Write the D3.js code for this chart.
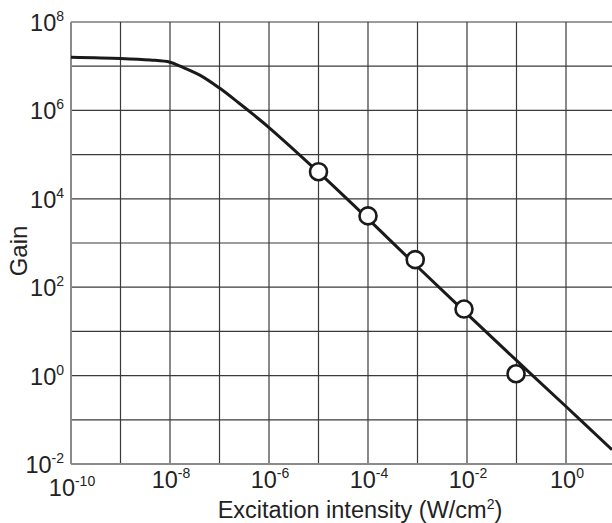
<!DOCTYPE html>
<html>
<head>
<meta charset="utf-8">
<script src="https://cdn.jsdelivr.net/npm/d3@7"></script>
<style>
  html, body { margin: 0; padding: 0; background: #fff; }
  svg { display: block; font-family: "Liberation Sans", Arial, sans-serif; }
</style>
</head>
<body>
<svg id="chart" width="612" height="523"></svg>
<script>
// Gain response curve, sampled along the drawn line
const curveIntensity = [1e-10, 1e-9, 4e-9, 1e-8, 1.6e-8, 4e-8, 1e-7, 2.5e-7, 5e-7, 1e-6, 1e-5, 1e-4, 1e-3, 1e-2, 1e-1, 1, 8.5];
const curveGain      = [1.6e7, 1.5e7, 1.38e7, 1.23e7, 1.0e7, 6.3e6, 3.2e6, 1.45e6, 7.8e5, 4.1e5, 4.0e4, 3.5e3, 2.9e2, 25, 2.2, 0.2, 0.021];

// Measured points
const pointIntensity = [1e-5, 1e-4, 9e-4, 8.7e-3, 0.098];
const pointGain      = [4.1e4, 4.1e3, 4.2e2, 32, 1.1];

// Decade ticks
const xTickExp = [-10, -8, -6, -4, -2, 0];
const yTickExp = [-2, 0, 2, 4, 6, 8];
const xGridExp = [-10, -9, -8, -7, -6, -5, -4, -3, -2, -1, 0];
const yGridExp = [-2, -1, 0, 1, 2, 3, 4, 5, 6, 7, 8];

const svg = d3.select("#chart");
const plotLeft = 71, plotTop = 22, plotBottom = 464;

const x = d3.scaleLog().domain([1e-10, 1e1]).range([plotLeft, plotLeft + 11 * 49.5]);
const y = d3.scaleLog().domain([1e-2, 1e8]).range([plotBottom, plotTop]);

const plot = svg.append("g");

// grid
plot.selectAll("line.vgrid").data(xGridExp.slice(1)).join("line")
  .attr("x1", d => x(Math.pow(10, d))).attr("x2", d => x(Math.pow(10, d)))
  .attr("y1", plotTop).attr("y2", plotBottom)
  .attr("stroke", "#3a3a3a").attr("stroke-width", 1.2);
plot.selectAll("line.hgrid").data(yGridExp.slice(1)).join("line")
  .attr("x1", plotLeft).attr("x2", 612)
  .attr("y1", d => y(Math.pow(10, d))).attr("y2", d => y(Math.pow(10, d)))
  .attr("stroke", "#3a3a3a").attr("stroke-width", 1.2);

// axis lines
plot.append("line").attr("x1", plotLeft).attr("x2", plotLeft).attr("y1", plotTop).attr("y2", plotBottom)
  .attr("stroke", "#8a8a8a").attr("stroke-width", 2);
plot.append("line").attr("x1", plotLeft).attr("x2", 612).attr("y1", plotBottom).attr("y2", plotBottom)
  .attr("stroke", "#8a8a8a").attr("stroke-width", 2);

// curve
const curveData = curveIntensity.map((v, i) => [v, curveGain[i]]);
const line = d3.line().x(d => x(d[0])).y(d => y(d[1])).curve(d3.curveCatmullRom.alpha(0.5));
plot.append("path").datum(curveData)
  .attr("d", line).attr("fill", "none")
  .attr("stroke", "#1a1a1a").attr("stroke-width", 3);

// measured points
plot.selectAll("circle.pt").data(pointIntensity.map((v, i) => [v, pointGain[i]])).join("circle")
  .attr("cx", d => x(d[0])).attr("cy", d => y(d[1])).attr("r", 8.5)
  .attr("fill", "#fff").attr("stroke", "#1a1a1a").attr("stroke-width", 2.6);

// tick labels
function powerLabel(sel, exp) {
  sel.append("tspan").text("10");
  sel.append("tspan").attr("dy", -10).attr("font-size", 14).text(exp);
}
const fill = "#222";
yTickExp.forEach(e => {
  const t = svg.append("text").attr("x", 64).attr("y", y(Math.pow(10, e)) + 9)
    .attr("text-anchor", "end").attr("font-size", 23.5).attr("fill", fill);
  powerLabel(t, e);
});
xTickExp.forEach(e => {
  const t = svg.append("text").attr("x", x(Math.pow(10, e)) + 1)
    .attr("y", e === -10 ? 496 : 488)
    .attr("text-anchor", "middle").attr("font-size", 23.5).attr("fill", fill);
  powerLabel(t, e);
});

// axis titles
const xt = svg.append("text").attr("x", 360).attr("y", 518)
  .attr("text-anchor", "middle").attr("font-size", 23.5).attr("fill", fill);
xt.append("tspan").text("Excitation intensity (W/cm");
xt.append("tspan").attr("dy", -9).attr("font-size", 14).text("2");
xt.append("tspan").attr("dy", 9).text(")");

svg.append("text").attr("transform", "translate(27,251) rotate(-90)")
  .attr("text-anchor", "middle").attr("font-size", 24).attr("fill", fill).text("Gain");
</script>
</body>
</html>
